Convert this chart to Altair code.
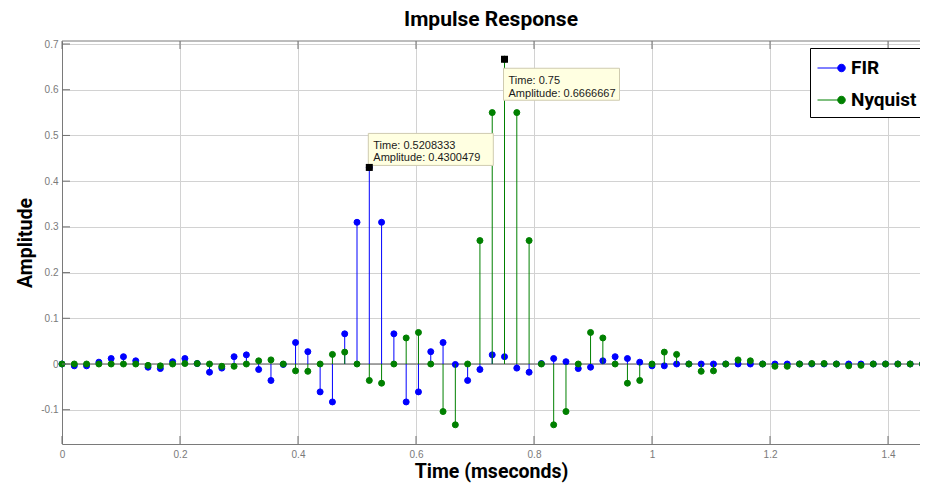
import altair as alt
import pandas as pd

# ---------------- data ----------------
sample_period = 1 / 48  # mseconds per sample
n_samples = 73

fir_amp = [
    0.000, -0.004, -0.004, 0.004, 0.012, 0.016, 0.007, -0.007, -0.010, 0.005,
    0.012, 0.001, -0.018, -0.009, 0.016, 0.020, -0.012, -0.036, -0.001, 0.047,
    0.027, -0.061, -0.083, 0.066, 0.310, 0.4300479, 0.310, 0.066, -0.083, -0.061,
    0.027, 0.047, -0.001, -0.036, -0.012, 0.020, 0.016, -0.009, -0.018, 0.001,
    0.012, 0.005, -0.010, -0.007, 0.007, 0.016, 0.012, 0.004, -0.004, -0.004,
    0.000, 0.000, 0.000, 0.000, 0.000, 0.000, 0.000, 0.000, 0.000, 0.000,
    0.000, 0.000, 0.000, 0.000, 0.000, 0.000, 0.000, 0.000, 0.000, 0.000,
    0.000, 0.000, 0.000,
]

nyq_amp = [
    0.000, 0.000, 0.000, 0.000, 0.000, 0.000, 0.000, -0.003, -0.004, 0.000,
    0.001, 0.001, 0.000, -0.005, -0.005, 0.000, 0.007, 0.009, 0.000, -0.015,
    -0.016, 0.000, 0.021, 0.026, 0.000, -0.036, -0.042, 0.000, 0.057, 0.069,
    0.000, -0.104, -0.133, 0.000, 0.270, 0.550, 0.6666667, 0.550, 0.270, 0.000,
    -0.133, -0.104, 0.000, 0.069, 0.057, 0.000, -0.042, -0.036, 0.000, 0.026,
    0.021, 0.000, -0.016, -0.015, 0.000, 0.009, 0.007, 0.000, -0.005, -0.005,
    0.000, 0.001, 0.001, 0.000, -0.004, -0.003, 0.000, 0.000, 0.000, 0.000,
    0.000, 0.000, 0.000,
]

series_names = ["FIR", "Nyquist"]
series_colors = ["#0000ff", "#008000"]

x_ticks = [0, 0.2, 0.4, 0.6, 0.8, 1.0, 1.2, 1.4]
y_ticks = [-0.1, 0, 0.1, 0.2, 0.3, 0.4, 0.5, 0.6, 0.7]

tip_times = [25 / 48, 0.75]
tip_amps = [0.4300479, 0.6666667]

# ---------------- tables ----------------
times = [i * sample_period for i in range(n_samples)]
stem_df = pd.DataFrame(
    {
        "time": times * 2,
        "amp": fir_amp + nyq_amp,
        "series": [series_names[0]] * n_samples + [series_names[1]] * n_samples,
    }
)
tip_df = pd.DataFrame(
    {
        "time": tip_times,
        "amp": tip_amps,
        "tip": [0, 1],
        "label": [
            f"Time: {t:.7g}\nAmplitude: {a:.7g}" for t, a in zip(tip_times, tip_amps)
        ],
    }
)
xtick_df = pd.DataFrame({"time": x_ticks})
ytick_df = pd.DataFrame({"amp": y_ticks})

# ---------------- styling ----------------
W, H = 858, 403
BOLD_FONT = "Roboto, Liberation Sans, sans-serif"
LABEL_FONT = "Liberation Sans, Arial, sans-serif"
FRAME = "#7a7a7a"

xs = alt.Scale(domain=[0, 1.4542], nice=False, zero=False)
ys = alt.Scale(domain=[-0.175, 0.7066], nice=False, zero=False)

x_axis = alt.Axis(
    values=x_ticks,
    labelExpr="toString(round(datum.value*10)/10)",
    grid=True,
    gridColor="#d2d2d2",
    gridWidth=1,
    ticks=False,
    domainColor=FRAME,
    labelColor="#7a7a7a",
    labelFont=LABEL_FONT,
    labelFontSize=10,
    labelPadding=5,
    labelFlush=False,
    title="Time (mseconds)",
    titleFont=BOLD_FONT,
    titleFontSize=19.5,
    titleFontWeight="bold",
    titleColor="#000000",
    titlePadding=3,
)
y_axis = alt.Axis(
    values=y_ticks,
    labelExpr="toString(round(datum.value*10)/10)",
    grid=True,
    gridColor="#d2d2d2",
    gridWidth=1,
    ticks=False,
    domainColor=FRAME,
    labelColor="#7a7a7a",
    labelFont=LABEL_FONT,
    labelFontSize=10,
    labelPadding=4,
    labelFlush=False,
    title="Amplitude",
    titleFont=BOLD_FONT,
    titleFontSize=19.5,
    titleFontWeight="bold",
    titleColor="#000000",
    titlePadding=5,
)

X = alt.X("time:Q", scale=xs, axis=x_axis)
Y = alt.Y("amp:Q", scale=ys, axis=y_axis)

legend_path = "M-1,0L0.92,0M0.62,0A0.3,0.3,0,1,0,1.22,0A0.3,0.3,0,1,0,0.62,0Z"
color_scale = alt.Scale(domain=series_names, range=series_colors)
legend = alt.Legend(
    title=None,
    orient="none",
    legendX=748,
    legendY=7,
    fillColor="#ffffff",
    strokeColor="#000000",
    padding=7,
    cornerRadius=0,
    symbolType=legend_path,
    symbolSize=625,
    symbolStrokeWidth=1,
    symbolOpacity=1,
    labelFont=BOLD_FONT,
    labelFontSize=19,
    labelFontWeight="bold",
    labelColor="#000000",
    labelOffset=8,
    rowPadding=9,
    labelLimit=200,
)

base = alt.Chart(stem_df)

baseline = alt.Chart(pd.DataFrame({"amp": [0]})).mark_rule(
    color="#8a8a8a", strokeWidth=1.6, clip=True
).encode(x=alt.value(0), x2=alt.value(W), y=Y)


def stems(name, color):
    return (
        base.transform_filter(alt.datum.series == name)
        .mark_rule(color=color, strokeWidth=1, clip=True)
        .encode(x=X, y=Y, y2=alt.datum(0))
    )


def dots(name):
    return (
        base.transform_filter(alt.datum.series == name)
        .mark_point(filled=True, size=36, opacity=1, clip=False, strokeWidth=1)
        .encode(
            x=X,
            y=Y,
            fill=alt.Fill("series:N", scale=color_scale, legend=legend),
            stroke=alt.Stroke("series:N", scale=color_scale, legend=legend),
        )
    )


tick_color = "#707070"
top_border = alt.Chart(pd.DataFrame({"amp": [0]})).mark_rule(
    color=FRAME, strokeWidth=1
).encode(x=alt.value(0), x2=alt.value(W), y=alt.value(0))
bottom_ticks = alt.Chart(xtick_df).mark_rule(color=tick_color).encode(
    x=X, y=alt.value(H), y2=alt.value(H - 8)
)
top_ticks = alt.Chart(xtick_df).mark_rule(color=tick_color).encode(
    x=X, y=alt.value(0), y2=alt.value(8)
)
left_ticks = alt.Chart(ytick_df).mark_rule(color=tick_color).encode(
    y=Y, x=alt.value(0), x2=alt.value(8)
)

tips = alt.Chart(tip_df)
box1 = tips.transform_filter("datum.tip == 0").mark_rect(
    fill="#ffffe1", stroke="#cfcbb0", strokeWidth=1,
    xOffset=-1, x2Offset=124, yOffset=-34, y2Offset=-2,
).encode(x=X, x2="time:Q", y=Y, y2="amp:Q")
box2 = tips.transform_filter("datum.tip == 1").mark_rect(
    fill="#ffffe1", stroke="#cfcbb0", strokeWidth=1,
    xOffset=-1, x2Offset=115, yOffset=9, y2Offset=41,
).encode(x=X, x2="time:Q", y=Y, y2="amp:Q")
text1 = tips.transform_filter("datum.tip == 0").mark_text(
    align="left", baseline="alphabetic", dx=4, dy=-18.5,
    font=LABEL_FONT, fontSize=11, color="#1a1a1a", lineBreak="\n", lineHeight=12.5,
).encode(x=X, y=Y, text="label:N")
text2 = tips.transform_filter("datum.tip == 1").mark_text(
    align="left", baseline="alphabetic", dx=4, dy=25,
    font=LABEL_FONT, fontSize=11, color="#1a1a1a", lineBreak="\n", lineHeight=12.5,
).encode(x=X, y=Y, text="label:N")
squares = tips.mark_square(size=49, color="#000000", opacity=1, filled=True).encode(
    x=X, y=Y
)

chart = (
    alt.layer(
        baseline,
        stems("FIR", series_colors[0]),
        dots("FIR"),
        stems("Nyquist", series_colors[1]),
        dots("Nyquist"),
        top_border,
        bottom_ticks,
        top_ticks,
        left_ticks,
        box1,
        box2,
        text1,
        text2,
        squares,
    )
    .properties(
        width=W,
        height=H,
        title=alt.Title(
            "Impulse Response",
            font=BOLD_FONT,
            fontSize=21,
            fontWeight="bold",
            color="#000000",
            anchor="middle",
            offset=9,
        ),
        autosize=alt.AutoSizeParams(type="none"),
        padding={"left": 54, "top": 33, "right": 0, "bottom": 40},
        background="#ffffff",
    )
    .configure_view(strokeWidth=0)
)

chart.save("out.html", embed_options={"renderer": "svg", "actions": False})
